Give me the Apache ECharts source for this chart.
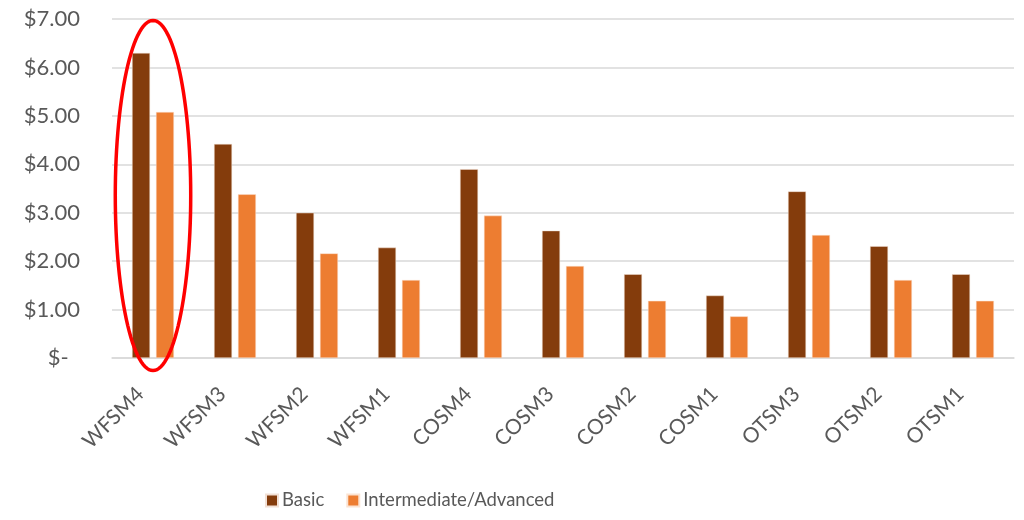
<!DOCTYPE html>
<html><head><meta charset="utf-8">
<script src="https://cdn.jsdelivr.net/npm/echarts@6/dist/echarts.min.js"></script>
<style>html,body{margin:0;padding:0;background:#fff}#c{width:1024px;height:520px}</style>
</head><body><div id="c"></div>
<script>
const categories = ['WFSM4','WFSM3','WFSM2','WFSM1','COSM4','COSM3','COSM2','COSM1','OTSM3','OTSM2','OTSM1'];
const basic = [6.30, 4.42, 3.00, 2.28, 3.90, 2.63, 1.73, 1.29, 3.44, 2.31, 1.73];
const intermediate = [5.08, 3.38, 2.16, 1.61, 2.94, 1.90, 1.18, 0.86, 2.54, 1.61, 1.18];
const seriesNames = ['Basic', 'Intermediate/Advanced'];
const yTicks = [0, 1, 2, 3, 4, 5, 6, 7];
const highlightCategory = 'WFSM4';
const highlightRange = [6.97, -0.26];

const FONT = 'Lato';
const chart = echarts.init(document.getElementById('c'));
chart.setOption({
  animation: false,
  textStyle: { fontFamily: FONT },
  grid: { left: 112, right: 10, top: 19, bottom: 162, outerBoundsMode: 'none' },
  legend: {
    bottom: 5, left: 260, itemWidth: 12, itemHeight: 12, itemGap: 22,
    icon: 'rect',
    textStyle: { fontSize: 18.5, color: '#595959', fontFamily: FONT, padding: [0, 0, 0, -1] },
    data: seriesNames
  },
  xAxis: {
    type: 'category', data: categories,
    axisLine: { show: true, lineStyle: { color: '#d9d9d9', width: 1.5 } },
    axisTick: { show: false },
    axisLabel: { rotate: 45, fontSize: 21, color: '#595959', margin: 20, padding: [0, 18, 0, 0], fontFamily: FONT }
  },
  yAxis: {
    type: 'value', min: yTicks[0], max: yTicks[yTicks.length - 1], interval: 1,
    axisLine: { show: false }, axisTick: { show: false },
    splitLine: { lineStyle: { color: '#d9d9d9', width: 1.5 } },
    axisLabel: {
      fontSize: 22, color: '#595959', margin: 32, fontFamily: FONT,
      formatter: v => v === 0 ? '$-  ' : '$' + v.toFixed(2)
    }
  },
  series: [
    { name: seriesNames[0], type: 'bar', data: basic, barWidth: 18, barGap: '33%',
      itemStyle: { color: '#843C0C', borderColor: '#f2e0d5', borderWidth: 0.5 } },
    { name: seriesNames[1], type: 'bar', data: intermediate, barWidth: 18,
      itemStyle: { color: '#ED7D31', borderColor: '#fbe3d2', borderWidth: 0.5 } }
  ]
});

function drawEllipse() {
  const top = chart.convertToPixel({ gridIndex: 0 }, [highlightCategory, highlightRange[0]]);
  const bot = chart.convertToPixel({ gridIndex: 0 }, [highlightCategory, highlightRange[1]]);
  const next = chart.convertToPixel({ gridIndex: 0 }, [categories[1], 0]);
  const cx = top[0], cy = (top[1] + bot[1]) / 2;
  const ry = (bot[1] - top[1]) / 2;
  const rx = (next[0] - top[0]) * 0.46;
  const pts = [];
  for (let i = 0; i < 120; i++) {
    const a = i / 120 * Math.PI * 2;
    pts.push([cx + rx * Math.cos(a), cy + ry * Math.sin(a)]);
  }
  chart.setOption({
    graphic: [{
      type: 'polygon', z: 100, silent: true,
      shape: { points: pts },
      style: { fill: 'none', stroke: '#ff0000', lineWidth: 3.5 }
    }]
  });
}
drawEllipse();
</script></body></html>
